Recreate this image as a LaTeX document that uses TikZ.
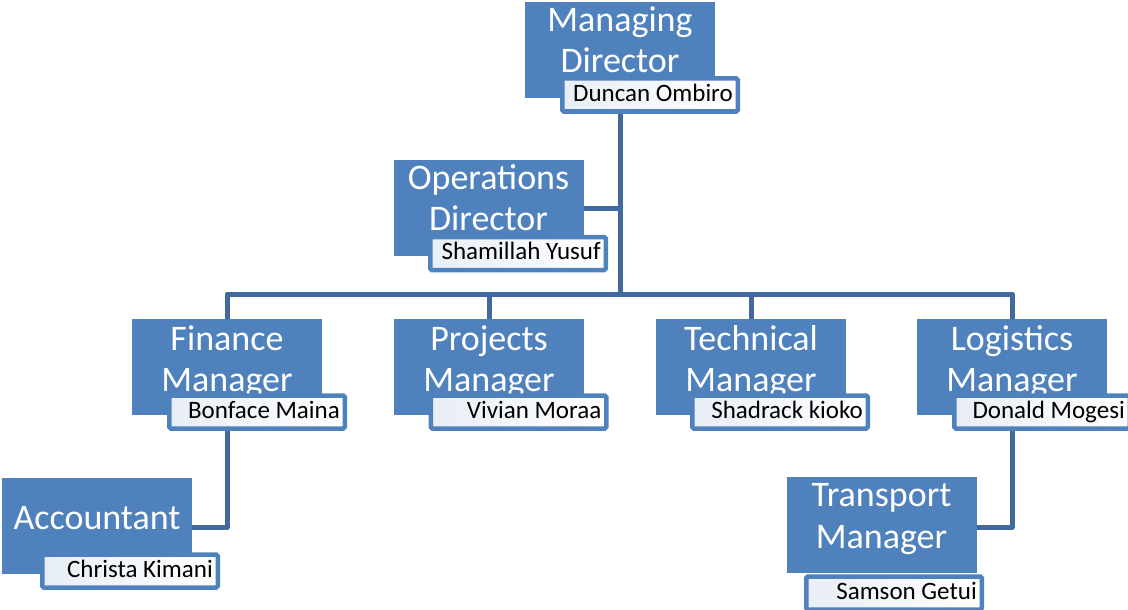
\documentclass[tikz,border=0pt]{standalone}
\usepackage{fontspec}
\setmainfont{Carlito}
\definecolor{boxblue}{HTML}{4F81BD}
\definecolor{linkblue}{HTML}{41699E}
\definecolor{tint}{HTML}{E8EEF6}
\pgfdeclarelayer{bg}
\pgfsetlayers{bg,main}
\begin{document}
\begin{tikzpicture}[x=1pt,y=-1pt,
  titlebox/.style={rectangle, fill=boxblue, minimum width=190pt, minimum height=96pt, inner sep=0pt},
  namebox/.style={rectangle, draw=boxblue, line width=4.5pt, rounded corners=1.5pt, left color=tint, right color=white, minimum width=175.5pt, minimum height=33pt, inner sep=0pt},
  ttl/.style={text=white, font=\fontsize{36}{43}\selectfont, anchor=base, inner sep=0pt},
  nm/.style={text=black, font=\fontsize{25}{30}\selectfont, anchor=base east, inner sep=0pt},
  link/.style={draw=linkblue, line width=5pt, line join=round}]
\useasboundingbox (0,0) rectangle (1128,610);
\coordinate (bar) at (620,294);
% blue boxes
\node[titlebox] (md)  at (620,50) {};
\node[titlebox] (ops) at (488.5,208) {};
\node[titlebox] (fin) at (227,367) {};
\node[titlebox] (prj) at (489,367) {};
\node[titlebox] (tec) at (751,367) {};
\node[titlebox] (log) at (1012,367) {};
\node[titlebox] (acc) at (97,525.5) {};
\node[titlebox] (trn) at (881.5,525) {};
% titles
\node[ttl] (mdt1) at ([yshift=-30pt]md.north) {Managing};
\node[ttl] (mdt2) at ([yshift=-71pt]md.north) {Director};
\node[ttl] (opst1) at ([yshift=-30pt]ops.north) {Operations};
\node[ttl] (opst2) at ([yshift=-71pt]ops.north) {Director};
\node[ttl] (fint1) at ([yshift=-32pt]fin.north) {Finance};
\node[ttl] (fint2) at ([yshift=-73pt]fin.north) {Manager};
\node[ttl] (prjt1) at ([yshift=-32pt]prj.north) {Projects};
\node[ttl] (prjt2) at ([yshift=-73pt]prj.north) {Manager};
\node[ttl] (tect1) at ([yshift=-32pt]tec.north) {Technical};
\node[ttl] (tect2) at ([yshift=-73pt]tec.north) {Manager};
\node[ttl] (logt1) at ([yshift=-32pt]log.north) {Logistics};
\node[ttl] (logt2) at ([yshift=-73pt]log.north) {Manager};
\node[ttl] (acct1) at ([yshift=-52pt]acc.north) {Accountant};
\node[ttl] (trnt1) at ([yshift=-30pt]trn.north) {Transport};
\node[ttl] (trnt2) at ([yshift=-72pt]trn.north) {Manager};
% name boxes
\node[namebox] (mdn)  at (650,95) {};
\node[namebox] (opsn) at (518,253.5) {};
\node[namebox] (finn) at (257,412) {};
\node[namebox] (prjn) at (518.5,412) {};
\node[namebox] (tecn) at (780,412) {};
\node[namebox] (logn) at (1042,412) {};
\node[namebox] (accn) at (130,571) {};
\node[namebox] (trnn) at (894,593) {};
% names
\node[nm] (mdnt)  at ([xshift=-7pt,yshift=-25pt]mdn.north east) {Duncan Ombiro};
\node[nm] (opsnt) at ([xshift=-7pt,yshift=-25pt]opsn.north east) {Shamillah Yusuf};
\node[nm] (finnt) at ([xshift=-7pt,yshift=-25pt]finn.north east) {Bonface Maina};
\node[nm] (prjnt) at ([xshift=-7pt,yshift=-25pt]prjn.north east) {Vivian Moraa};
\node[nm] (tecnt) at ([xshift=-7pt,yshift=-25pt]tecn.north east) {Shadrack kioko};
\node[nm] (lognt) at ([xshift=-7pt,yshift=-25pt]logn.north east) {Donald Mogesi};
\node[nm] (accnt) at ([xshift=-7pt,yshift=-25pt]accn.north east) {Christa Kimani};
\node[nm] (trnnt) at ([xshift=-7pt,yshift=-25pt]trnn.north east) {Samson Getui};
% connectors
\begin{pgfonlayer}{bg}
\draw[link] (md.center) -- (md.center |- bar);
\draw[link] (ops.center) -- (ops.center -| md.center);
\draw[link] (fin.center) |- (bar) -| (log.center);
\draw[link] (prj.center) -- (prj.center |- bar);
\draw[link] (tec.center) -- (tec.center |- bar);
\draw[link] (fin.center) |- ([yshift=-1.5pt]acc.center);
\draw[link] (log.center) |- ([yshift=-2pt]trn.center);
\end{pgfonlayer}
\end{tikzpicture}
\end{document}
